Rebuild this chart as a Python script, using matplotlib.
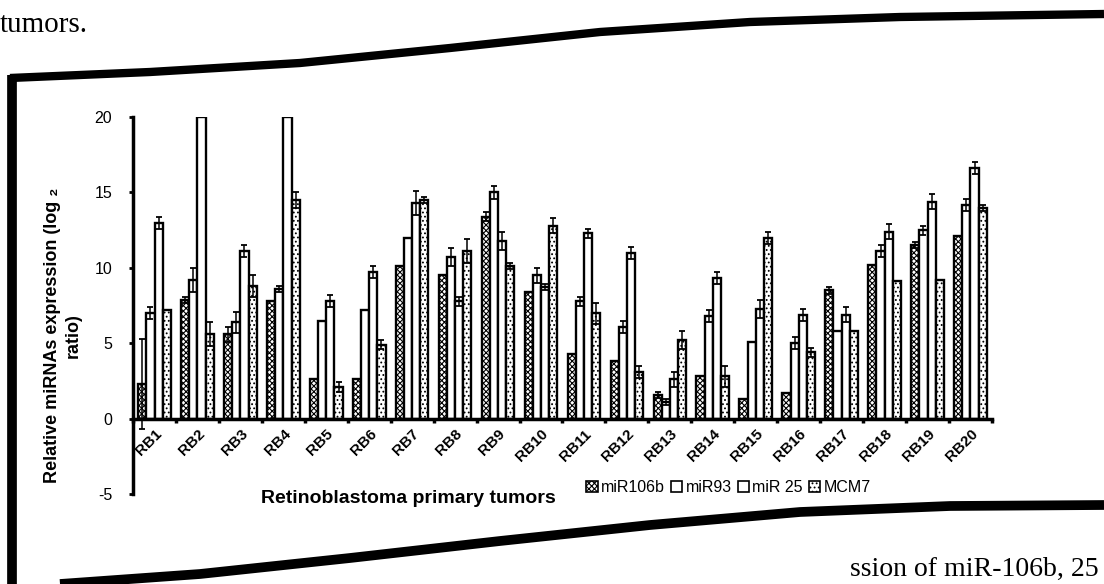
import numpy as np
import matplotlib
matplotlib.use("Agg")
import matplotlib.pyplot as plt
from matplotlib.patches import Patch
from matplotlib.lines import Line2D

plt.rcParams['font.family'] = ['Liberation Sans', 'DejaVu Sans']
plt.rcParams['hatch.linewidth'] = 0.8
plt.rcParams['axes.unicode_minus'] = False

tumors = ["RB" + str(i) for i in range(1, 21)]
series = ["miR106b", "miR93", "miR 25", "MCM7"]

mir106b = [2.3, 7.9, 5.6, 7.8, 2.6, 2.6, 10.1, 9.5, 13.4, 8.4,
           4.3, 3.8, 1.6, 2.8, 1.3, 1.7, 8.5, 10.2, 11.5, 12.1]
mir93 = [7.0, 9.2, 6.4, 8.6, 6.5, 7.2, 12.0, 10.7, 15.0, 9.5,
         7.8, 6.1, 1.1, 6.8, 5.1, 5.0, 5.8, 11.1, 12.5, 14.2]
mir25 = [13.0, 20.0, 11.1, 20.0, 7.8, 9.7, 14.3, 7.8, 11.8, 8.7,
         12.3, 11.0, 2.6, 9.3, 7.3, 6.9, 6.9, 12.4, 14.4, 16.6]
mcm7 = [7.2, 5.6, 8.8, 14.5, 2.1, 4.9, 14.5, 11.1, 10.1, 12.8,
        7.0, 3.1, 5.2, 2.8, 12.0, 4.4, 5.8, 9.1, 9.2, 14.0]

err106b = [3.0, 0.2, 0.5, 0, 0, 0, 0, 0, 0.3, 0,
           0, 0, 0.2, 0, 0, 0, 0.2, 0, 0.2, 0]
err93 = [0.4, 0.8, 0.7, 0.2, 0, 0, 0, 0.6, 0.4, 0.5,
         0.3, 0.4, 0.2, 0.4, 0, 0.4, 0, 0.4, 0.3, 0.4]
err25 = [0.4, 0, 0.4, 0, 0.4, 0.4, 0.8, 0.3, 0.6, 0.2,
         0.3, 0.4, 0.5, 0.4, 0.6, 0.4, 0.5, 0.5, 0.5, 0.4]
errmcm7 = [0, 0.8, 0.7, 0.5, 0.3, 0.3, 0.2, 0.8, 0.2, 0.5,
           0.7, 0.4, 0.6, 0.7, 0.4, 0.3, 0, 0, 0, 0.2]

values = [mir106b, mir93, mir25, mcm7]
errors = [err106b, err93, err25, errmcm7]
hatches = ['xxxxxx', '', '', '....']

fig = plt.figure(figsize=(11.04, 5.84), dpi=100)
ax = fig.add_axes([0.1205, 0.154, 0.778, 0.6455])

x = np.arange(len(tumors))
w = 0.19
for i, (vals, errs) in enumerate(zip(values, errors)):
    pos = x + (i - 1.5) * w
    ax.bar(pos, vals, w, color='white', edgecolor='black', linewidth=1.7,
           hatch=hatches[i], label=series[i])
    e = np.array(errs)
    m = e > 0
    ax.errorbar(pos[m], np.array(vals)[m], yerr=e[m], fmt='none',
                ecolor='black', elinewidth=1.1, capsize=2.5, capthick=1.3)

ax.set_xlim(-0.5, len(tumors) - 0.5)
ax.set_ylim(-5, 20)
ax.set_yticks([-5, 0, 5, 10, 15, 20])
ax.tick_params(axis='y', labelsize=11.5, length=3, width=2, pad=12)

ax.spines['top'].set_visible(False)
ax.spines['right'].set_visible(False)
ax.spines['bottom'].set_position(('data', 0))
ax.spines['left'].set_linewidth(2.5)
ax.spines['bottom'].set_linewidth(2.5)

ax.set_xticks(x)
ax.set_xticklabels(tumors, rotation=45, ha='right', rotation_mode='anchor',
                   fontsize=11, fontweight='bold')
ax.set_xticks(np.arange(-0.5, len(tumors)), minor=True)
ax.tick_params(axis='x', which='major', length=0, pad=6)
ax.tick_params(axis='x', which='minor', length=3, width=2.5, direction='out')

ax.set_ylabel("Relative miRNAs expression (log \u2082\nratio)",
              fontsize=13, fontweight='bold', linespacing=1.3)
ax.yaxis.set_label_coords(-0.06, 0.42)
ax.set_xlabel("Retinoblastoma primary tumors", fontsize=14, fontweight='bold')
ax.xaxis.set_label_coords(0.32, 0.01)

handles = [Patch(facecolor='white', edgecolor='black', hatch=h, linewidth=1.2)
           for h in hatches]
fig.legend(handles, series, loc='center', bbox_to_anchor=(0.66, 0.165),
           ncol=4, frameon=False, fontsize=11.5, handlelength=0.7,
           handleheight=0.7, handletextpad=0.2, columnspacing=0.4)

# scanned page frame around the figure
W, H = 1104.0, 584.0
def px(pts):
    return [p[0] / W for p in pts], [1 - p[1] / H for p in pts]

top = px([(10, 78), (150, 72), (300, 63), (450, 48), (600, 32),
          (750, 22), (900, 17), (1104, 14)])
bottom = px([(60, 584), (200, 574), (350, 558), (500, 541), (650, 525),
             (800, 512), (950, 506), (1104, 505)])
left = px([(12, 75), (12, 584)])
for xs, ys, lw in [(top[0], top[1], 6), (bottom[0], bottom[1], 7), (left[0], left[1], 7)]:
    fig.add_artist(Line2D(xs, ys, transform=fig.transFigure, color='black',
                          linewidth=lw, solid_capstyle='butt',
                          solid_joinstyle='round'))

fig.text(0.0, 0.945, "tumors.", fontsize=21, family='Liberation Serif',
         ha='left', va='baseline')
fig.text(0.995, 0.003, "ssion of miR-106b, 25", fontsize=20,
         family='Liberation Serif', ha='right', va='bottom')

fig.savefig("out.png", dpi=100)
